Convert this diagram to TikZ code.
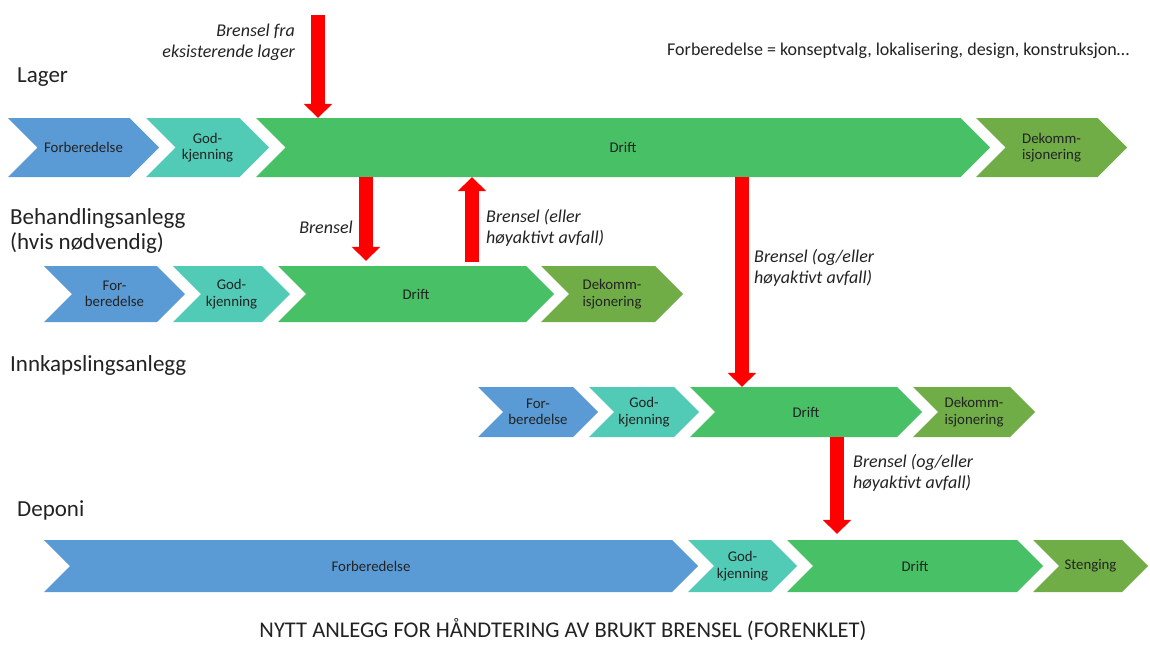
\documentclass[tikz,border=0pt]{standalone}
\usepackage{fontspec}
\setmainfont{Carlito}
\usetikzlibrary{arrows.meta}

\definecolor{forbblue}{HTML}{5B9BD5}
\definecolor{godkteal}{HTML}{52CBB6}
\definecolor{driftgreen}{HTML}{48C065}
\definecolor{dekomgreen}{HTML}{70AD47}
\definecolor{textgray}{HTML}{222222}

% chevron: name, left x, tip x, colour, text (uses \ytop and \ybot of the row)
\newcommand{\chev}[5]{%
	\fill[#4] (#2,\ytop) -- ({#3-(\ybot-\ytop)/2},\ytop) -- (#3,{(\ytop+\ybot)/2})
		-- ({#3-(\ybot-\ytop)/2},\ybot) -- (#2,\ybot) -- ({#2+(\ybot-\ytop)/2},{(\ytop+\ybot)/2}) -- cycle;
	\node[chevtext, minimum width={(#3-#2)*1pt}, minimum height={(\ybot-\ytop)*1pt}] (#1)
		at ({(#2+#3)/2},{(\ytop+\ybot)/2}) {#5};
}

\begin{document}
\begin{tikzpicture}[x=1pt,y=-1pt,
	chevtext/.style={inner sep=0pt, text=textgray, align=center, font=\fontsize{14.8}{16.5}\selectfont},
	rowlabel/.style={anchor=west, inner sep=0pt, text=textgray, align=left, font=\fontsize{23}{24.5}\selectfont},
	flowlabel/.style={inner sep=0pt, text=textgray, font=\fontsize{18}{21}\selectfont\itshape},
	brensel/.style={red, line width=14pt, -{Triangle[width=28pt,length=14pt]}}]

	\useasboundingbox (0,0) rectangle (1150,645);

	% Lager
	\def\ytop{118}
	\def\ybot{177}
	\node[rowlabel] (lager) at (17,77) {Lager};
	\chev{l-forb}{8}{159}{forbblue}{Forberedelse}
	\chev{l-godk}{146}{269}{godkteal}{God-\\kjenning}
	\chev{l-drift}{256}{990}{driftgreen}{Drift}
	\chev{l-dekom}{976}{1127}{dekomgreen}{Dekomm-\\isjonering}

	% Behandlingsanlegg
	\def\ytop{266}
	\def\ybot{322}
	\node[rowlabel] (behandling) at (10,231) {Behandlingsanlegg\\(hvis nødvendig)};
	\chev{b-forb}{44}{185}{forbblue}{For-\\beredelse}
	\chev{b-godk}{173}{290}{godkteal}{God-\\kjenning}
	\chev{b-drift}{278}{554}{driftgreen}{Drift}
	\chev{b-dekom}{541}{683}{dekomgreen}{Dekomm-\\isjonering}

	% Innkapslingsanlegg
	\def\ytop{387}
	\def\ybot{437}
	\node[rowlabel] (innkapsling) at (10,365) {Innkapslingsanlegg};
	\chev{i-forb}{478}{598}{forbblue}{For-\\beredelse}
	\chev{i-godk}{589}{699}{godkteal}{God-\\kjenning}
	\chev{i-drift}{690}{922}{driftgreen}{Drift}
	\chev{i-dekom}{913}{1035}{dekomgreen}{Dekomm-\\isjonering}

	% Deponi
	\def\ytop{540}
	\def\ybot{592}
	\node[rowlabel] (deponi) at (17,510) {Deponi};
	\chev{d-forb}{44}{698}{forbblue}{Forberedelse}
	\chev{d-godk}{688}{797}{godkteal}{God-\\kjenning}
	\chev{d-drift}{787}{1043}{driftgreen}{Drift}
	\chev{d-steng}{1033}{1148}{dekomgreen}{Stenging}

	% brensel flows
	\coordinate (a1) at (318,15);
	\coordinate (a2) at (366,0);
	\coordinate (a3) at (472,0);
	\coordinate (a4) at (742,0);
	\coordinate (a5) at (837,0);

	\draw[brensel] (a1) -- (l-drift.north -| a1);
	\draw[brensel, shorten >=5pt] (l-drift.south -| a2) -- (b-drift.north -| a2);
	\draw[brensel, shorten <=4pt] (b-drift.north -| a3) -- (l-drift.south -| a3);
	\draw[brensel] (l-drift.south -| a4) -- (i-drift.north -| a4);
	\draw[brensel, shorten >=6pt] (i-drift.south -| a5) -- (d-drift.north -| a5);

	\node[flowlabel, anchor=east, align=right] (f1) at (295,42) {Brensel fra\\eksisterende lager};
	\node[flowlabel, anchor=east] (f2) at (353,227) {Brensel};
	\node[flowlabel, anchor=west, align=left] (f3) at (486,228) {Brensel (eller\\høyaktivt avfall)};
	\node[flowlabel, anchor=west, align=left] (f4) at (754,268) {Brensel (og/eller\\høyaktivt avfall)};
	\node[flowlabel, anchor=west, align=left] (f5) at (853,473) {Brensel (og/eller\\høyaktivt avfall)};

	%\node at (563,10) {};
	\node[anchor=west, inner sep=0pt, text=textgray, font=\fontsize{18}{21}\selectfont] (note) at (667,51)
		{Forberedelse = konseptvalg, lokalisering, design, konstruksjon…};
	\node[inner sep=0pt, text=textgray, font=\fontsize{22.5}{26}\selectfont] (title) at (563,630)
		{NYTT ANLEGG FOR HÅNDTERING AV BRUKT BRENSEL (FORENKLET)};
\end{tikzpicture}
\end{document}
